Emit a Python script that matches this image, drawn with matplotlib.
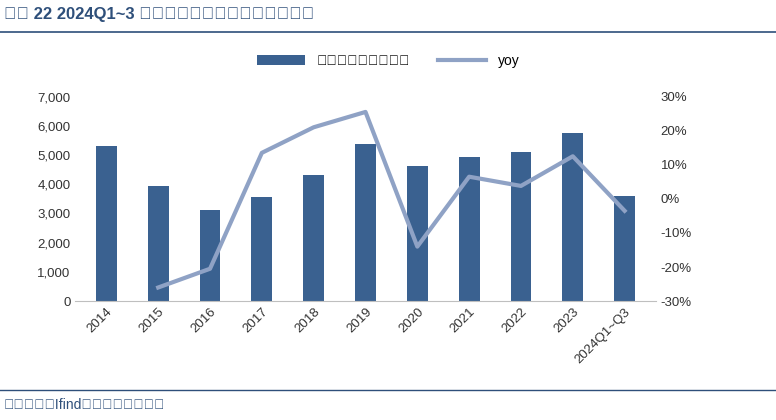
import matplotlib.pyplot as plt
from matplotlib import font_manager
from matplotlib.ticker import FuncFormatter

cjk = [f.name for f in font_manager.fontManager.ttflist if 'CJK' in f.name]
pref = [n for n in cjk if 'SC' in n] or cjk
plt.rcParams['font.family'] = ['Arial', 'Liberation Sans'] + pref[:1] + ['DejaVu Sans']
plt.rcParams['font.sans-serif'] = ['Liberation Sans'] + pref[:1] + ['DejaVu Sans']
plt.rcParams['font.family'] = 'sans-serif'

years = ['2014', '2015', '2016', '2017', '2018', '2019', '2020', '2021', '2022', '2023', '2024Q1~Q3']
capex = [5300, 3930, 3130, 3550, 4300, 5380, 4620, 4920, 5100, 5750, 3600]
yoy = [None, -26, -20.5, 13.5, 21, 25.5, -14, 6.5, 3.8, 12.5, -3.5]

fig = plt.figure(figsize=(7.76, 4.2), dpi=100)
ax = fig.add_axes([0.097, 0.283, 0.748, 0.487])
x = list(range(len(years)))
ax.bar(x, capex, width=0.4, color='#3a6190', label='三桶油资本开支合计')
ax.set_ylim(0, 7000)
ax.set_yticks(range(0, 7001, 1000))
ax.yaxis.set_major_formatter(FuncFormatter(lambda v, p: f'{int(v):,}'))
ax.set_xlim(-0.6, len(years) - 0.4)
ax.set_xticks(x)
ax.set_xticklabels(years, rotation=45, ha='right', rotation_mode='anchor')
for s in ['top', 'right', 'left']:
    ax.spines[s].set_visible(False)
ax.spines['bottom'].set_color('#bfbfbf')
ax.tick_params(axis='both', length=0, labelsize=9.5, colors='#333333')

ax2 = ax.twinx()
ax2.plot(x[1:], yoy[1:], color='#8fa2c5', linewidth=3, label='yoy')
ax2.set_ylim(-30, 30)
ax2.set_yticks(range(-30, 31, 10))
ax2.yaxis.set_major_formatter(FuncFormatter(lambda v, p: f'{int(v)}%'))
for s in ['top', 'right', 'left', 'bottom']:
    ax2.spines[s].set_visible(False)
ax2.tick_params(axis='y', length=0, labelsize=9.5, colors='#333333')

h1, l1 = ax.get_legend_handles_labels()
h2, l2 = ax2.get_legend_handles_labels()
fig.legend(h1 + h2, l1 + l2, loc='center', bbox_to_anchor=(0.5, 0.855), ncol=2,
           frameon=False, fontsize=10, handlelength=3.5, columnspacing=2)

fig.text(0.005, 0.965, '图表 22 2024Q1~3 三桶油资本开支略下滑（亿元）', fontsize=12,
         fontweight='bold', color='#2e4f7a', va='center')
fig.add_artist(plt.Line2D([0, 1], [0.925, 0.925], color='#2e4f7a', linewidth=1.2))
fig.add_artist(plt.Line2D([0, 1], [0.072, 0.072], color='#2e4f7a', linewidth=1))
fig.text(0.005, 0.035, '资料来源：Ifind，华安证券研究所', fontsize=10, color='#2e4f7a', va='center')

plt.savefig('out.png')
